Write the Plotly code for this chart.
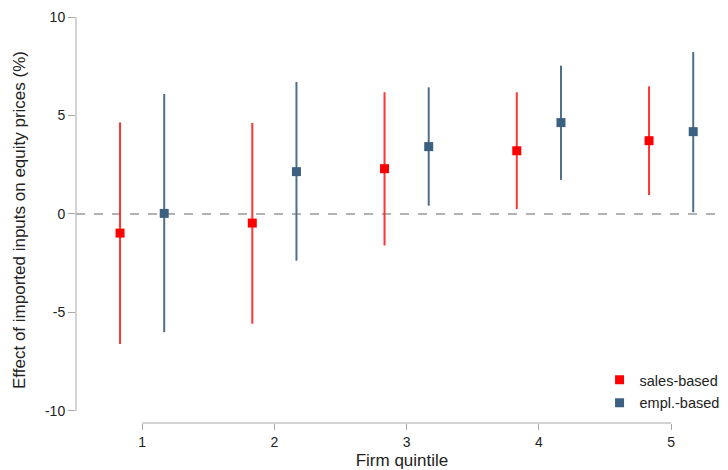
import plotly.graph_objects as go

quintiles = [1, 2, 3, 4, 5]
sales_est = [-0.97, -0.46, 2.30, 3.21, 3.72]
sales_lo = [-6.60, -5.57, -1.60, 0.25, 0.96]
sales_hi = [4.65, 4.62, 6.18, 6.18, 6.48]
empl_est = [0.03, 2.15, 3.42, 4.64, 4.18]
empl_lo = [-6.00, -2.37, 0.42, 1.73, 0.09]
empl_hi = [6.09, 6.70, 6.43, 7.53, 8.22]
offset = 0.167

red = "#ff0000"
blue = "#3c6180"
gray = "#a8a8a8"
font = "Liberation Sans, Arial, sans-serif"

fig = go.Figure()

def add_series(name, est, lo, hi, shift, mcolor, ecolor, group):
    fig.add_trace(go.Scatter(
        x=[q + shift for q in quintiles], y=est, mode="markers", name=name,
        legendgroup=group,
        marker=dict(symbol="square", size=9, color=mcolor),
        error_y=dict(type="data", symmetric=False,
                     array=[h - e for h, e in zip(hi, est)],
                     arrayminus=[e - l for e, l in zip(est, lo)],
                     width=0, thickness=2, color=ecolor),
    ))

add_series("sales-based", sales_est, sales_lo, sales_hi, -offset, red, "rgba(255,30,30,0.9)", "a")
add_series("empl.-based", empl_est, empl_lo, empl_hi, offset, blue, "#4d6f8a", "b")

fig.add_shape(type="line", xref="paper", yref="y", x0=0, x1=1, y0=0, y1=0,
              line=dict(color="#999999", width=1.5, dash="dash"), layer="below")
fig.add_shape(type="line", xref="paper", yref="y", x0=0, x1=0, y0=-10, y1=10,
              line=dict(color=gray, width=1))
fig.add_shape(type="line", xref="x", yref="paper", x0=1, x1=5, y0=0, y1=0,
              line=dict(color=gray, width=1))

# page body has an 8px margin, so the figure is 8px smaller and shifted
fig.update_layout(
    width=720, height=462,
    margin=dict(l=68, r=0, t=9, b=47),
    paper_bgcolor="white", plot_bgcolor="white",
    font=dict(family=font, size=14, color="#222222"),
    showlegend=True,
    legend=dict(x=0.803, xanchor="left", y=0.01, yanchor="bottom",
                bgcolor="rgba(0,0,0,0)", font=dict(size=14.5),
                tracegroupgap=1, traceorder="grouped", itemwidth=30),
    xaxis=dict(range=[0.5, 5.43], tickvals=quintiles, ticktext=[str(q) for q in quintiles],
               showgrid=False, zeroline=False, showline=False,
               ticks="outside", ticklen=6, tickcolor=gray, tickwidth=1,
               tickfont=dict(size=14),
               title=dict(text="Firm quintile", font=dict(size=17), standoff=13),
               automargin=False),
    yaxis=dict(range=[-10.61, 10], tickvals=[-10, -5, 0, 5, 10],
               ticktext=["-10", "-5", "0", "5", "10"],
               showgrid=False, zeroline=False, showline=False,
               ticks="outside", ticklen=7, tickcolor=gray, tickwidth=1,
               tickfont=dict(size=14),
               title=dict(text="Effect of imported inputs on equity prices (%)",
                          font=dict(size=17), standoff=15),
               automargin=False),
)

fig.write_html("out.html")
